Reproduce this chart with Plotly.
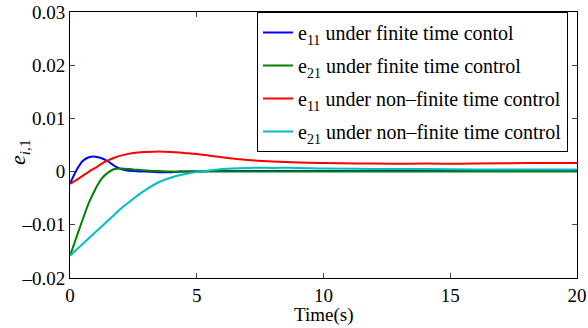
import plotly.graph_objects as go

# Time samples (s)
t = [0, 0.25, 0.5, 0.75, 1, 1.25, 1.5, 1.75, 2, 2.5, 3, 3.5, 4, 4.5, 5, 5.5,
     6, 7, 8, 9, 10, 12, 14, 16, 18, 20]

e11_finite = [-0.0023, 0.0002, 0.0020, 0.0027, 0.0028, 0.0025, 0.0019, 0.0011,
              0.0005, 0.0001, 0.0000, -0.0001, -0.0001, 0.0000, 0.0000, 0.0001,
              0.0001, 0.0001, 0.0001, 0.0001, 0.0001, 0.0001, 0.0001, 0.0001,
              0.0001, 0.0001]

e21_finite = [-0.0158, -0.0124, -0.0090, -0.0058, -0.0033, -0.0013, -0.0002,
              0.0005, 0.0006, 0.0004, 0.0002, 0.0001, 0.0000, 0.0000, 0.0000,
              0.0000, 0.0000, 0.0000, 0.0000, 0.0000, 0.0000, 0.0000, 0.0000,
              0.0000, 0.0000, 0.0000]

e11_nonfinite = [-0.0023, -0.0016, -0.0008, 0.0000, 0.0007, 0.0015, 0.0021,
                 0.0026, 0.0030, 0.0035, 0.0037, 0.0038, 0.0037, 0.0035,
                 0.0033, 0.0030, 0.0027, 0.0022, 0.0019, 0.0017, 0.0016,
                 0.0015, 0.0015, 0.0015, 0.0016, 0.0016]

e21_nonfinite = [-0.0158, -0.0147, -0.0136, -0.0125, -0.0114, -0.0103, -0.0092,
                 -0.0081, -0.0070, -0.0051, -0.0034, -0.0020, -0.0011, -0.0005,
                 -0.0001, 0.0002, 0.0005, 0.0007, 0.0007, 0.0007, 0.0006,
                 0.0005, 0.0005, 0.0004, 0.0004, 0.0004]

names = ["e<sub>11</sub> under finite time contol",
         "e<sub>21</sub> under finite time control",
         "e<sub>11</sub> under non\u2013finite time control",
         "e<sub>21</sub> under non\u2013finite time control"]
colors = ["#0000ff", "#008000", "#ff0000", "#00bfbf"]
series = [e11_finite, e21_finite, e11_nonfinite, e21_nonfinite]

x_ticks = [0, 5, 10, 15, 20]
y_ticks = [-0.02, -0.01, 0, 0.01, 0.02, 0.03]
y_ticktext = ["\u20130.02", "\u20130.01", "0", "0.01", "0.02", "0.03"]

fig = go.Figure()
for i, (name, col, ys) in enumerate(zip(names, colors, series)):
    fig.add_trace(go.Scatter(x=t, y=ys, mode="lines", name=name, legendgroup=f"g{i}",
                             line=dict(color=col, width=2, shape="spline", smoothing=1)))

ff = "Liberation Serif"
tick_font = dict(family=ff, size=19, color="black")
fig.update_layout(
    width=588, height=328,
    margin=dict(l=70, r=11, t=12, b=50, autoexpand=False),
    paper_bgcolor="white", plot_bgcolor="white",
    font=dict(family=ff, size=19, color="black"),
    showlegend=True,
    legend=dict(x=(257 - 70) / 507, y=1, xanchor="left", yanchor="top",
                bordercolor="black", borderwidth=1, bgcolor="white",
                font=dict(family=ff, size=20, color="black"),
                tracegroupgap=4, itemwidth=30),
    xaxis=dict(range=[0, 20], tickvals=x_ticks, ticks="inside", ticklen=5,
               tickfont=tick_font, automargin=False,
               showline=True, linecolor="black", linewidth=1, mirror="allticks",
               showgrid=False, zeroline=False),
    yaxis=dict(range=[-0.02, 0.03], tickvals=y_ticks, ticktext=y_ticktext,
               ticks="inside", ticklen=5, tickfont=tick_font, automargin=False,
               showline=True, linecolor="black", linewidth=1, mirror="allticks",
               showgrid=False, zeroline=False),
    annotations=[
        dict(text="<i>e</i><sub><i>i</i>,1</sub>", xref="paper", yref="paper",
             x=(19 - 70) / 507, y=(278 - 152) / 266, textangle=-90,
             xanchor="center", yanchor="middle",
             showarrow=False, font=dict(family=ff, size=22, color="black")),
        dict(text="Time(s)", xref="paper", yref="paper",
             x=0.5, y=(278 - 315) / 266, xanchor="center", yanchor="middle",
             showarrow=False, font=tick_font),
    ],
)

fig.write_html("out.html", config={"displayModeBar": False},
               post_script="document.body.style.margin='0';document.body.style.padding='0';")
